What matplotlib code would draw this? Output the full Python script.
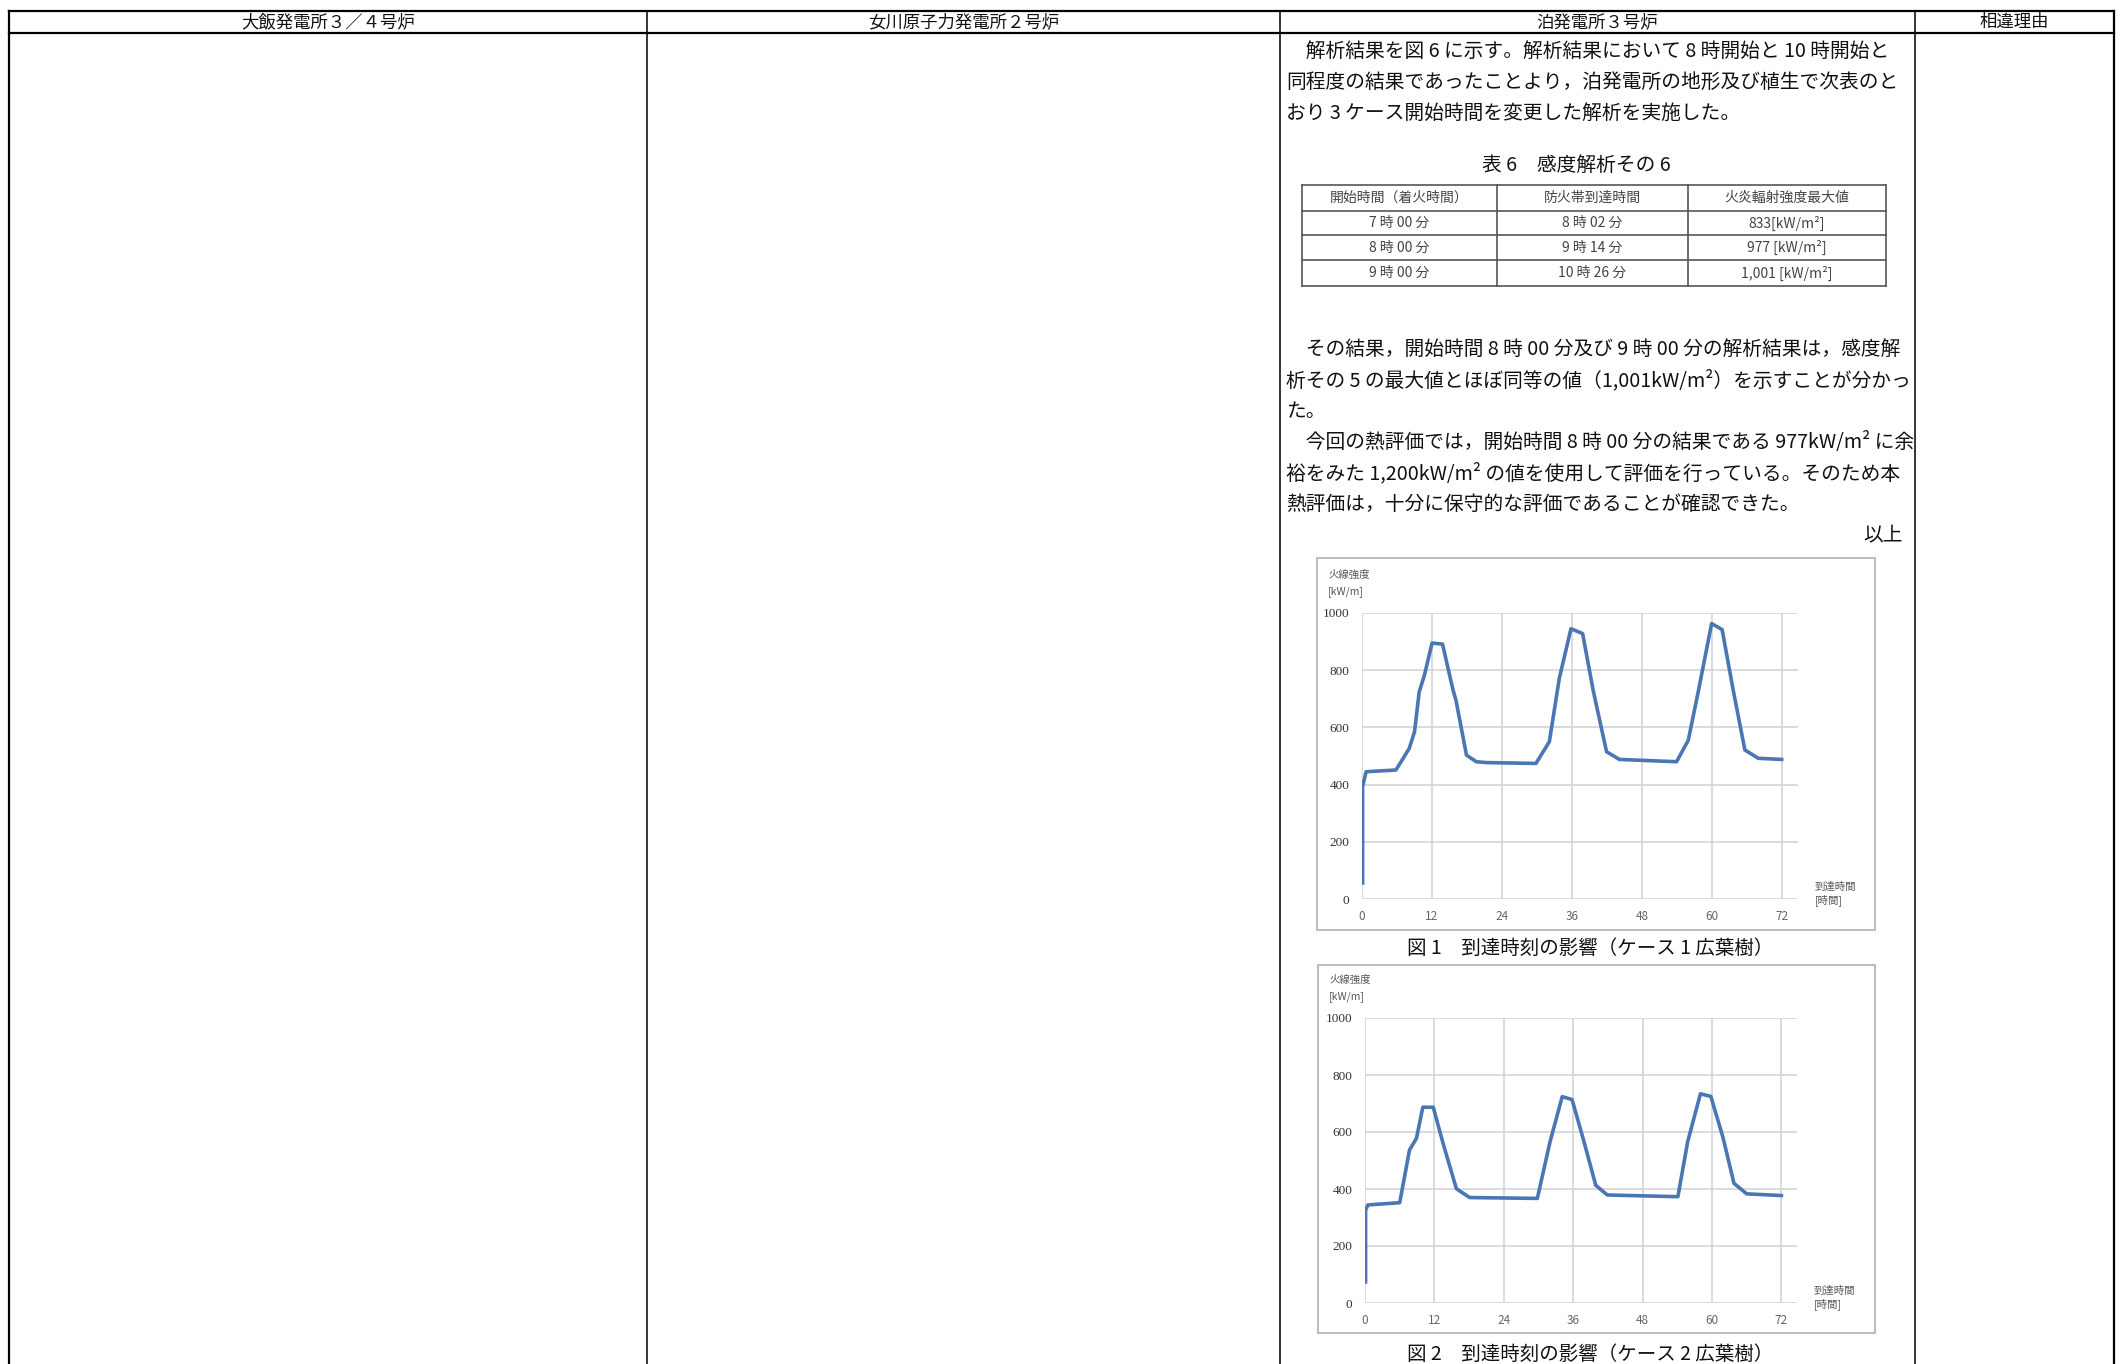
import matplotlib
matplotlib.use("Agg")
import matplotlib.pyplot as plt
from matplotlib.patches import Rectangle

plt.rcParams['font.family'] = ['Noto Sans CJK JP', 'DejaVu Sans']

W, H = 2123, 1364

# column headers of the comparison sheet
col_headers = ["大飯発電所３／４号炉", "女川原子力発電所２号炉", "泊発電所３号炉", "相違理由"]

para1 = ["　解析結果を図 6 に示す。解析結果において 8 時開始と 10 時開始と",
         "同程度の結果であったことより，泊発電所の地形及び植生で次表のと",
         "おり 3 ケース開始時間を変更した解析を実施した。"]

table_title = "表 6　感度解析その 6"
table_header = ["開始時間（着火時間）", "防火帯到達時間", "火炎輻射強度最大値"]
start_times = ["7 時 00 分", "8 時 00 分", "9 時 00 分"]
arrival_times = ["8 時 02 分", "9 時 14 分", "10 時 26 分"]
max_radiation = ["833[kW/m²]", "977 [kW/m²]", "1,001 [kW/m²]"]

para2 = ["　その結果，開始時間 8 時 00 分及び 9 時 00 分の解析結果は，感度解",
         "析その 5 の最大値とほぼ同等の値（1,001kW/m²）を示すことが分かっ",
         "た。",
         "　今回の熱評価では，開始時間 8 時 00 分の結果である 977kW/m² に余",
         "裕をみた 1,200kW/m² の値を使用して評価を行っている。そのため本",
         "熱評価は，十分に保守的な評価であることが確認できた。"]

# fireline intensity vs arrival time
hours_case1 = [0.1, 0.1, 0.7, 5.8, 6.7, 8.1, 9.0, 9.8, 10.7, 12.0, 13.8, 15.6, 16.1, 17.9,
               19.6, 21.3, 29.8, 32.1, 33.8, 35.8, 37.8, 39.6, 41.9, 44.1, 53.9, 55.9,
               57.6, 59.9, 61.7, 63.6, 65.6, 67.9, 71.9]
intensity_case1 = [56, 393, 445, 451, 480, 527, 585, 724, 783, 895, 891, 730, 695, 503,
                   480, 477, 474, 550, 771, 945, 928, 730, 515, 488, 480, 555,
                   724, 963, 942, 730, 521, 492, 488]

hours_case2 = [0.1, 0.1, 0.5, 6.0, 7.7, 8.9, 10.0, 11.8, 13.5, 15.8, 18.1, 29.8, 32.0,
               34.1, 35.8, 37.8, 39.9, 41.9, 54.1, 55.8, 58.0, 59.8, 61.9, 63.8, 66.0, 72.0]
intensity_case2 = [74, 326, 344, 352, 537, 578, 687, 687, 560, 401, 370, 367, 566,
                   724, 714, 571, 413, 379, 373, 566, 734, 725, 581, 420, 383, 377]

captions = ["図 1　到達時刻の影響（ケース 1 広葉樹）", "図 2　到達時刻の影響（ケース 2 広葉樹）"]
x_ticks = [0, 12, 24, 36, 48, 60, 72]
y_ticks = [0, 200, 400, 600, 800, 1000]

fig = plt.figure(figsize=(W / 100, H / 100), dpi=100)
bg = fig.add_axes([0, 0, 1, 1])
bg.set_xlim(0, W)
bg.set_ylim(H, 0)
bg.axis('off')

# sheet grid
col_x = [9, 647, 1280, 1915, 2114]
top, head_bot = 11, 33
bg.plot([col_x[0], col_x[-1]], [top, top], color='k', lw=1.6)
bg.plot([col_x[0], col_x[-1]], [head_bot, head_bot], color='k', lw=1.6)
for i, x in enumerate(col_x):
    bg.plot([x, x], [top, H], color='k', lw=1.6 if i in (0, 4) else 1.1)
for i, name in enumerate(col_headers):
    bg.text((col_x[i] + col_x[i + 1]) / 2, 22, name, ha='center', va='center',
            fontsize=12.5, color='#111')

# body text
text_x = 1286
for i, line in enumerate(para1):
    bg.text(text_x, 51 + i * 31, line, ha='left', va='center', fontsize=14.2, color='#111')

bg.text(1576, 165, table_title, ha='center', va='center', fontsize=14.2, color='#111')

tab_x = [1302, 1497, 1688, 1886]
tab_y = [185, 211, 235, 260, 286]
for y in tab_y:
    bg.plot([tab_x[0], tab_x[-1]], [y, y], color='#555', lw=1.2)
for x in tab_x:
    bg.plot([x, x], [tab_y[0], tab_y[-1]], color='#555', lw=1.2)
rows = [table_header] + [list(r) for r in zip(start_times, arrival_times, max_radiation)]
for r, row in enumerate(rows):
    yc = (tab_y[r] + tab_y[r + 1]) / 2
    for c, cell in enumerate(row):
        bg.text((tab_x[c] + tab_x[c + 1]) / 2, yc, cell, ha='center', va='center',
                fontsize=10, color='#444')

for i, line in enumerate(para2):
    bg.text(text_x, 349 + i * 31.2, line, ha='left', va='center', fontsize=14.2, color='#111')
bg.text(1903, 536, "以上", ha='right', va='center', fontsize=14.2, color='#111')


def draw_chart(box, area, hours, values, caption, cap_y):
    bx0, by0, bx1, by1 = box
    bg.add_patch(Rectangle((bx0, by0), bx1 - bx0, by1 - by0, fill=False,
                           edgecolor='#bdbdbd', lw=1.5))
    x0, y0, x1, y1 = area
    ax = fig.add_axes([x0 / W, 1 - y1 / H, (x1 - x0) / W, (y1 - y0) / H])
    ax.patch.set_alpha(0)
    ax.plot(hours, values, color='#4a76b3', lw=2.6, solid_joinstyle='round')
    ax.set_xlim(0, 74.7)
    ax.set_ylim(0, 1000)
    ax.set_xticks(x_ticks)
    ax.set_yticks(y_ticks)
    ax.grid(True, color='#d4d4d4', lw=1.2)
    ax.set_axisbelow(True)
    for s in ax.spines.values():
        s.set_visible(False)
    ax.tick_params(length=0, labelsize=8.5, colors='#666')
    ax.tick_params(axis='x', pad=8)
    ax.tick_params(axis='y', pad=9)
    for lab in ax.get_yticklabels():
        lab.set_family('Liberation Serif')
        lab.set_fontsize(9.5)
        lab.set_color('#333')
    bg.text(bx0 + 11, y0 - 38, "火線強度", ha='left', va='center', fontsize=7.5, color='#555')
    bg.text(bx0 + 11, y0 - 21, "[kW/m]", ha='left', va='center', fontsize=7.5, color='#555')
    bg.text(x1 + 17, y1 - 12, "到達時間", ha='left', va='center', fontsize=7.5, color='#555')
    bg.text(x1 + 17, y1 + 1, "[時間]", ha='left', va='center', fontsize=7.5, color='#555')
    bg.text(1590, cap_y, caption, ha='center', va='center', fontsize=14, color='#111')


draw_chart((1317, 558, 1875, 930), (1362, 613, 1798, 899),
           hours_case1, intensity_case1, captions[0], 948)
draw_chart((1318, 965, 1875, 1333), (1365, 1018, 1797, 1303),
           hours_case2, intensity_case2, captions[1], 1354)

fig.savefig("out.png", dpi=100)
